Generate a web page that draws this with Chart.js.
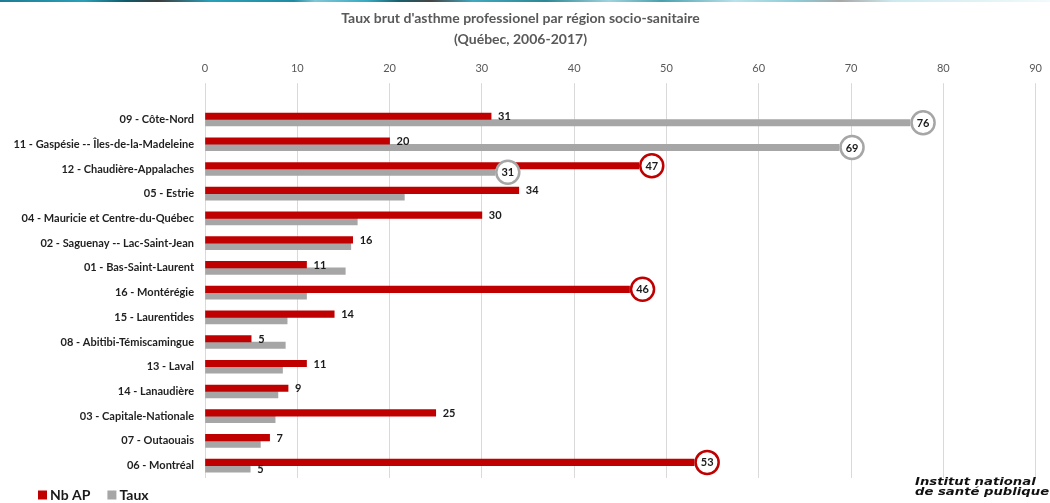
<!DOCTYPE html>
<html>
<head>
<meta charset="utf-8">
<script src="https://cdn.jsdelivr.net/npm/chart.js@4"></script>
<style>
  body { margin: 0; background: #fff; }
  #wrap { position: relative; width: 1050px; height: 503px; overflow: hidden; }
  #stripe { position: absolute; left: 0; top: 0; width: 1050px; height: 2px;
    background: linear-gradient(to right, #1d7d93 0%, #2a9fb8 8%, #0e5a6a 12%, #3b3b3b 15%, #2a9fb8 20%, #1f8ca3 28%, #7fc7d6 30%, #36a9c1 35%, #185f6c 38%, #444 41%, #40a8bf 45%, #2e8795 52%, #9fd3de 58%, #4aa0ae 63%, #b9e2ea 70%, #8ccbd6 76%, #a7a7a7 80%, #cde9ef 85%, #f2fafb 100%); }
  #logo { position: absolute; left: 915px; top: 477px; font: italic bold 11px "DejaVu Sans", sans-serif;
    line-height: 9.5px; color: #111; transform: scaleX(1.2); transform-origin: left top; }
</style>
</head>
<body>
<div id="wrap">
  <div id="stripe"></div>
  <canvas id="myChart" width="1050" height="503"></canvas>
  <div id="logo">Institut national<br>de santé publique</div>
</div>
<script>
const regions = [
  '09 - Côte-Nord',
  '11 - Gaspésie -- Îles-de-la-Madeleine',
  '12 - Chaudière-Appalaches',
  '05 - Estrie',
  '04 - Mauricie et Centre-du-Québec',
  '02 - Saguenay -- Lac-Saint-Jean',
  '01 - Bas-Saint-Laurent',
  '16 - Montérégie',
  '15 - Laurentides',
  '08 - Abitibi-Témiscamingue',
  '13 - Laval',
  '14 - Lanaudière',
  '03 - Capitale-Nationale',
  '07 - Outaouais',
  '06 - Montréal'
]
const nbAP = [31, 20, 47, 34, 30, 16, 11, 46, 14, 5, 11, 9, 25, 7, 53]
const taux = [76.4, 68.7, 31.4, 21.6, 16.5, 15.8, 15.2, 11.0, 8.9, 8.7, 8.4, 7.9, 7.6, 6.0, 4.9]
const xMax = 90
const xStep = 10

// which values get a label / a circle
const tauxShown = [0, 1, 2, 14]
const nbCircled = [2, 7, 14]
const tauxCircled = [0, 1, 2]

const RED = '#C00000'
const GREY = '#A6A6A6'
const FONT = 'Lato, "Open Sans", sans-serif'

const valueLabels = {
  id: 'valueLabels',
  afterDatasetsDraw(chart) {
    const ctx = chart.ctx
    ctx.save()
    ctx.font = 'bold 11px ' + FONT
    ctx.textBaseline = 'middle'
    chart.data.datasets.forEach((ds, di) => {
      const meta = chart.getDatasetMeta(di)
      meta.data.forEach((bar, i) => {
        if (di === 1 && !tauxShown.includes(i)) return
        const txt = String(Math.round(ds.data[i]))
        const circled = di === 0 ? nbCircled.includes(i) : tauxCircled.includes(i)
        if (circled) {
          const cx = bar.x + 13
          ctx.beginPath()
          ctx.arc(cx, bar.y, 11.5, 0, Math.PI * 2)
          ctx.fillStyle = '#fff'
          ctx.fill()
          ctx.lineWidth = 2.5
          ctx.strokeStyle = ds.backgroundColor
          ctx.stroke()
          ctx.fillStyle = '#1a1a1a'
          ctx.textAlign = 'center'
          ctx.fillText(txt, cx, bar.y + 0.5)
        } else {
          ctx.fillStyle = '#1a1a1a'
          ctx.textAlign = 'left'
          ctx.fillText(txt, bar.x + 7, bar.y + 0.5)
        }
      })
    })
    ctx.restore()
  }
}

const bottomLegend = {
  id: 'bottomLegend',
  afterDraw(chart) {
    const ctx = chart.ctx
    ctx.save()
    ctx.font = 'bold 14px ' + FONT
    ctx.textBaseline = 'middle'
    ctx.textAlign = 'left'
    let x = 38
    const y = 495
    chart.data.datasets.forEach(ds => {
      ctx.fillStyle = ds.backgroundColor
      ctx.fillRect(x, y - 4.5, 9, 9)
      ctx.fillStyle = '#1a1a1a'
      ctx.fillText(ds.label, x + 12, y)
      x += 12 + ctx.measureText(ds.label).width + 17
    })
    ctx.restore()
  }
}

new Chart(document.getElementById('myChart'), {
  type: 'bar',
  data: {
    labels: regions,
    datasets: [
      { label: 'Nb AP', data: nbAP, backgroundColor: RED, barThickness: 6.5 },
      { label: 'Taux', data: taux, backgroundColor: GREY, barThickness: 6.5 }
    ]
  },
  options: {
    indexAxis: 'y',
    responsive: false,
    animation: false,
    layout: { padding: { left: 0, right: 9, top: 0, bottom: 25 } },
    scales: {
      x: {
        position: 'top',
        min: 0,
        max: xMax,
        ticks: { stepSize: xStep, color: '#595959', padding: 8, font: { family: FONT, size: 11 } },
        grid: { color: '#D9D9D9', tickColor: '#D9D9D9', tickLength: 24 },
        border: { display: false }
      },
      y: {
        grid: { display: false, drawTicks: false },
        border: { display: false },
        ticks: { color: '#1f1f1f', padding: 11, font: { family: FONT, size: 11, weight: 'bold' } },
        afterFit(scale) { scale.width = 205 }
      }
    },
    plugins: {
      legend: { display: false },
      tooltip: { enabled: false },
      title: {
        display: true,
        text: ["Taux brut d'asthme professionel par région socio-sanitaire", '(Québec, 2006-2017)'],
        color: '#595959',
        font: { family: FONT, size: 14, weight: 'bold', lineHeight: 1.57 },
        padding: { top: 7, bottom: 3 }
      }
    }
  },
  plugins: [valueLabels, bottomLegend]
})
</script>
</body>
</html>
